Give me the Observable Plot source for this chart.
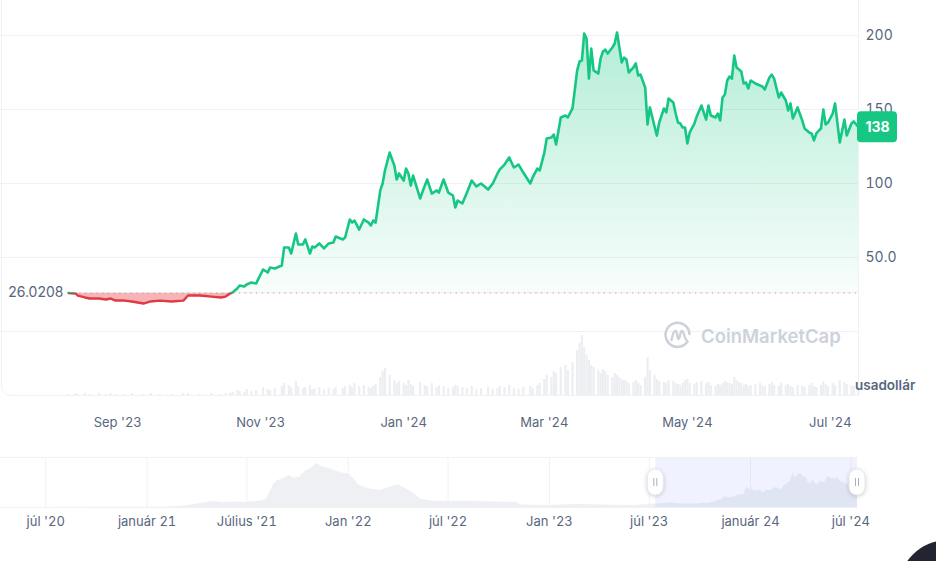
<!DOCTYPE html>
<html><head><meta charset="utf-8">
<script src="https://cdn.jsdelivr.net/npm/d3@7"></script>
<script src="https://cdn.jsdelivr.net/npm/@observablehq/plot@0.6"></script>
<style>
html,body{margin:0;padding:0;background:#fff;}
#root{position:relative;width:936px;height:561px;overflow:hidden;font-family:Inter,sans-serif;background:#fff;}
.layer{position:absolute;left:0;}
</style></head><body><div id="root"></div>
<script>
// ---------- DATA ----------
const baseline = 26.0208;
const lastPrice = 138;
const unitLabel = "usadollár";
const brand = "CoinMarketCap";

const dates = [
"2023-08-11","2023-08-14","2023-08-15","2023-08-18","2023-08-20","2023-08-24","2023-08-27","2023-08-29","2023-08-31",
"2023-09-04","2023-09-07","2023-09-12","2023-09-15","2023-09-19","2023-09-24","2023-09-29",
"2023-10-01","2023-10-06","2023-10-11","2023-10-15","2023-10-17","2023-10-19","2023-10-20","2023-10-22","2023-10-23","2023-10-25","2023-10-26","2023-10-28","2023-10-30",
"2023-11-02","2023-11-04","2023-11-05","2023-11-07","2023-11-10","2023-11-11","2023-11-13","2023-11-14","2023-11-16","2023-11-17","2023-11-19","2023-11-20","2023-11-22","2023-11-23","2023-11-24","2023-11-26","2023-11-28","2023-11-30",
"2023-12-02","2023-12-03","2023-12-06","2023-12-07","2023-12-09","2023-12-10","2023-12-11","2023-12-13","2023-12-15","2023-12-17","2023-12-18","2023-12-19","2023-12-20","2023-12-22","2023-12-23","2023-12-24","2023-12-26","2023-12-28","2023-12-29","2023-12-30",
"2024-01-01","2024-01-02","2024-01-03","2024-01-04","2024-01-05","2024-01-08","2024-01-10","2024-01-11","2024-01-13","2024-01-15","2024-01-16","2024-01-18","2024-01-20","2024-01-22","2024-01-23","2024-01-24","2024-01-26","2024-01-28","2024-01-30",
"2024-02-01","2024-02-03","2024-02-06","2024-02-08","2024-02-10","2024-02-11","2024-02-13","2024-02-15","2024-02-17","2024-02-19","2024-02-21","2024-02-24","2024-02-25","2024-02-27","2024-02-28",
"2024-03-01","2024-03-02","2024-03-04","2024-03-05","2024-03-06","2024-03-08","2024-03-10","2024-03-11","2024-03-13","2024-03-15","2024-03-16","2024-03-17","2024-03-18","2024-03-19","2024-03-20","2024-03-21","2024-03-22","2024-03-24","2024-03-25","2024-03-26","2024-03-27","2024-03-28","2024-03-30","2024-03-31",
"2024-04-01","2024-04-02","2024-04-03","2024-04-04","2024-04-05","2024-04-06","2024-04-08","2024-04-09","2024-04-10","2024-04-11","2024-04-13","2024-04-14","2024-04-15","2024-04-17","2024-04-18","2024-04-19","2024-04-21","2024-04-22","2024-04-23","2024-04-25","2024-04-26","2024-04-27","2024-04-28","2024-04-29","2024-04-30",
"2024-05-01","2024-05-02","2024-05-04","2024-05-05","2024-05-07","2024-05-09","2024-05-10","2024-05-11","2024-05-13","2024-05-14","2024-05-15","2024-05-16","2024-05-17","2024-05-18","2024-05-19","2024-05-20","2024-05-21","2024-05-22","2024-05-23","2024-05-24","2024-05-25","2024-05-26","2024-05-27","2024-05-28","2024-05-30",
"2024-06-01","2024-06-02","2024-06-03","2024-06-05","2024-06-06","2024-06-07","2024-06-09","2024-06-10","2024-06-12","2024-06-13","2024-06-14","2024-06-15","2024-06-17","2024-06-19","2024-06-20","2024-06-22","2024-06-23","2024-06-24","2024-06-25","2024-06-27","2024-06-28","2024-06-29","2024-06-30",
"2024-07-02","2024-07-03","2024-07-05","2024-07-07","2024-07-08","2024-07-10","2024-07-11","2024-07-13"
];
const prices = [
26.0208,25.7,24.3,23.0,22.3,22.3,21.6,22.3,20.9,
20.9,20.3,18.9,20.3,20.9,20.3,20.9,
24.3,24.3,23.6,23.0,23.6,25.7,26.4,29.1,31.1,30.4,31.8,33.1,32.4,
41.9,39.9,43.2,42.6,44.6,56.8,56.8,52.7,66.2,58.8,58.8,62.2,52.7,57.4,56.8,59.5,56.1,59.5,
60.1,64.2,62.2,63.5,75.7,73.6,75.0,68.9,75.7,73.6,71.6,75.0,73.6,95.3,100.0,108.8,120.9,112.2,102.7,106.8,
102.0,110.1,106.8,98.6,105.4,89.9,98.6,102.7,93.2,95.3,93.9,102.7,93.9,91.9,83.8,88.5,86.5,93.9,102.0,
98.0,100.0,95.9,100.0,106.8,109.5,112.8,117.6,110.8,112.8,107.4,100.0,104.1,110.1,108.8,
120.9,130.4,131.1,133.1,126.4,144.6,145.9,144.6,150.7,176.4,182.4,183.1,201.4,198.0,170.9,191.2,176.4,174.3,184.5,189.2,190.5,187.8,191.9,194.6,
202.0,191.9,181.8,185.1,183.8,175.0,178.4,181.1,173.0,173.6,164.9,139.9,151.4,138.5,132.4,141.2,150.7,148.0,157.4,154.7,147.3,141.2,140.5,137.8,137.8,
127.0,134.5,140.5,145.3,152.7,143.2,152.7,145.9,144.6,147.3,142.6,158.1,160.1,169.6,172.3,170.9,186.5,178.4,177.0,175.7,167.6,168.2,164.2,169.6,167.6,
166.2,165.5,163.5,171.6,173.6,170.9,158.1,161.5,156.1,149.3,154.1,143.9,151.4,142.6,137.2,134.5,133.8,129.1,133.8,137.2,150.0,139.9,141.2,
147.3,154.1,127.7,143.2,132.4,140.5,141.9,138.0
];
const volumes = [
1,2,1,2,1,2,1,2,1,
1,2,1,2,1,1,2,
2,1,2,1,2,2,3,5,4,3,6,4,5,
8,6,5,7,9,12,10,8,14,9,7,8,10,6,7,8,6,7,
6,8,7,9,10,8,12,9,10,8,7,9,11,18,24,27,20,15,12,14,
12,10,15,11,9,13,10,9,12,8,10,9,7,8,10,9,8,7,9,
6,7,8,6,7,9,8,10,7,6,8,9,7,10,12,
16,20,18,24,22,28,30,25,33,45,52,60,48,40,35,30,28,25,22,26,24,20,18,22,
20,18,16,15,14,12,13,15,12,10,18,38,25,20,16,14,13,12,15,14,12,11,10,12,15,
16,12,11,13,14,12,13,10,9,11,10,12,14,13,12,11,18,15,13,12,10,11,9,10,11,
12,10,9,11,13,10,9,12,10,11,9,8,10,9,8,10,12,9,8,10,14,11,9,
12,10,15,13,11,10,9,8
];

// history shown in the navigator (before the main window)
const navDates = ["2020-04-10","2020-07-01","2020-10-01","2021-01-01","2021-02-15","2021-03-15","2021-04-10","2021-05-01","2021-05-20","2021-06-10","2021-07-01","2021-07-20","2021-08-05","2021-08-18","2021-08-25","2021-09-05","2021-09-15","2021-09-25","2021-10-05","2021-10-15","2021-10-25","2021-11-05","2021-11-12","2021-11-20","2021-12-01","2021-12-10","2021-12-20","2022-01-01","2022-01-10","2022-01-20","2022-02-01","2022-02-15","2022-03-01","2022-03-15","2022-04-01","2022-04-15","2022-05-01","2022-05-12","2022-06-01","2022-07-01","2022-08-01","2022-09-01","2022-10-01","2022-11-01","2022-11-12","2023-01-01","2023-02-01","2023-03-01","2023-04-01","2023-05-01","2023-06-01","2023-07-01"];
const navValues = [0.3,0.5,0.8,1,3,10,25,35,28,32,30,35,45,130,155,165,185,170,175,210,225,255,240,232,222,210,200,195,170,130,115,105,98,115,132,110,80,50,38,35,38,33,32,30,14,12,16,17,15,13,12,18];

const xTicks = ["2023-09-01","2023-11-01","2024-01-01","2024-03-01","2024-05-01","2024-07-01"];
const xTickLabels = ["Sep '23","Nov '23","Jan '24","Mar '24","May '24","Jul '24"];
const yTicks = [50,100,150,200];
const yTickLabels = ["50.0","100","150","200"];
const yGrid = [0,50,100,150,200];
const navTicks = ["2020-07-01","2021-01-01","2021-07-01","2022-01-01","2022-07-01","2023-01-01","2023-07-01","2024-01-01","2024-07-01"];
const navTickLabels = ["júl '20","január 21","Július '21","Jan '22","júl '22","Jan '23","júl '23","január 24","júl '24"];
const windowRange = ["2023-07-13","2024-07-13"];
const navRange = ["2020-04-10","2024-07-13"];

// ---------- BUILD ----------
const P = s => new Date(s + "T00:00:00Z");
const series = dates.map((d, i) => ({date: P(d), value: prices[i], vol: volumes[i]}));
const navSeries = navDates.map((d, i) => ({date: P(d), value: navValues[i]}))
  .concat(series.map(d => ({date: d.date, value: d.value})));
const xDom = windowRange.map(P);
const xT = xTicks.map(P);
const nT = navTicks.map(P);
const FONT = "Inter, sans-serif";
const GREEN = "#16c784", RED = "#ea3943", TXT = "#58667e", GRID = "#eff2f5";

const root = document.getElementById("root");
function layer(top, node) {
  const d = document.createElement("div");
  d.className = "layer"; d.style.top = top + "px";
  d.appendChild(node); root.appendChild(d); return d;
}

// panel border
const border = document.createElement("div");
Object.assign(border.style, {position: "absolute", left: "1px", top: "-20px", width: "858px", height: "416px",
  boxSizing: "border-box", border: "1px solid " + GRID, borderRadius: "0 0 0 10px"});
root.appendChild(border);

// volume
const vol = Plot.plot({
  width: 936, height: 400, marginLeft: 0, marginRight: 78, marginTop: 330, marginBottom: 5,
  style: {background: "transparent"},
  x: {type: "utc", domain: xDom, axis: null},
  y: {domain: [0, 65], axis: null},
  marks: [
    Plot.ruleX(series, {x: "date", y1: 0, y2: "vol", stroke: "#eceef2", strokeWidth: 2.2})
  ]
});
layer(0, vol);

// main chart
const main = Plot.plot({
  width: 936, height: 440, marginLeft: 0, marginRight: 78, marginTop: 0, marginBottom: 45,
  style: {background: "transparent", fontFamily: FONT, color: TXT, overflow: "visible"},
  x: {type: "utc", domain: xDom, axis: null},
  y: {domain: [-43.24, 223.65], axis: null},
  marks: [
    Plot.gridY(yGrid, {stroke: GRID, strokeOpacity: 1}),
    Plot.areaY(series, {x: "date", y1: baseline, y2: "value", fill: "url(#greenGrad)"}),
    Plot.areaY(series, {x: "date", y1: baseline, y2: "value", fill: RED, fillOpacity: 0.38}),
    Plot.ruleY([baseline], {x1: () => series[0].date, x2: () => xDom[1], stroke: "#9aa3b5", strokeDasharray: "1.2 4.5", strokeWidth: 1.2}),
    Plot.line(series, {x: "date", y: "value", stroke: GREEN, strokeWidth: 2.6}),
    Plot.line(series, {x: "date", y: "value", stroke: "#e03a44", strokeWidth: 2.4}),
    Plot.text([{date: series[0].date, v: baseline}], {x: "date", y: "v", text: d => String(d.v), textAnchor: "end", dx: -5, fontSize: 14, fill: TXT}),
    Plot.axisY({ticks: yTicks, anchor: "right", tickSize: 0, tickPadding: 7, label: null,
      tickFormat: d => yTickLabels[yTicks.indexOf(d)], fontSize: 14, fill: TXT}),
    Plot.axisX({ticks: xT, anchor: "bottom", tickSize: 0, tickPadding: 22, label: null,
      tickFormat: d => xTickLabels[xT.findIndex(t => +t === +d)], fontSize: 13, fill: TXT}),
    (index, scales, values, dims) => {
      const yy = scales.y(lastPrice);
      const x0 = dims.width - dims.marginRight;
      return d3.create("svg:rect").attr("x", x0 - 1).attr("y", yy - 15.5).attr("width", 40).attr("height", 31)
        .attr("rx", 4).attr("fill", GREEN).node();
    },
    Plot.text([lastPrice], {y: d => d, frameAnchor: "right", textAnchor: "middle", dx: 19, text: d => String(d), fill: "white", fontWeight: 700, fontSize: 14})
  ]
});
{
  const svg = d3.select(main);
  const yS = main.scale("y");
  const yb = yS.apply(baseline);
  const defs = svg.insert("defs", ":first-child");
  const g = defs.append("linearGradient").attr("id", "greenGrad").attr("gradientUnits", "userSpaceOnUse")
    .attr("x1", 0).attr("x2", 0).attr("y1", yS.apply(200)).attr("y2", yb);
  g.append("stop").attr("offset", "0%").attr("stop-color", GREEN).attr("stop-opacity", 0.32);
  g.append("stop").attr("offset", "100%").attr("stop-color", GREEN).attr("stop-opacity", 0.03);
  defs.append("clipPath").attr("id", "clipUp").append("rect").attr("x", -10).attr("y", -100).attr("width", 1000).attr("height", yb + 100);
  defs.append("clipPath").attr("id", "clipDown").append("rect").attr("x", -10).attr("y", yb).attr("width", 1000).attr("height", 500);
  const areas = svg.selectAll('g[aria-label="area"]').nodes();
  const lines = svg.selectAll('g[aria-label="line"]').nodes();
  if (areas[0]) areas[0].setAttribute("clip-path", "url(#clipUp)");
  if (areas[1]) areas[1].setAttribute("clip-path", "url(#clipDown)");
  if (lines[0]) lines[0].setAttribute("clip-path", "url(#clipUp)");
  if (lines[1]) lines[1].setAttribute("clip-path", "url(#clipDown)");
}
layer(0, main);

// navigator
const nav = Plot.plot({
  width: 936, height: 100, marginLeft: 0, marginRight: 79, marginTop: 17, marginBottom: 33,
  style: {background: "transparent", fontFamily: FONT, color: TXT, overflow: "visible"},
  x: {type: "utc", domain: navRange.map(P), axis: null},
  y: {domain: [0, 290], axis: null},
  marks: [
    Plot.gridX(nT, {stroke: GRID, strokeOpacity: 1}),
    Plot.areaY(navSeries, {x: "date", y1: 0, y2: "value", fill: "#eef0f3"}),
    Plot.rect([{a: xDom[0], b: xDom[1]}], {x1: "a", x2: "b", fill: "#3861fb", fillOpacity: 0.075}),
    Plot.ruleY([0, 290], {stroke: GRID}),
    Plot.axisX({ticks: nT, anchor: "bottom", tickSize: 0, tickPadding: 9, label: null,
      tickFormat: d => navTickLabels[nT.findIndex(t => +t === +d)], fontSize: 13, fill: TXT}),
    (index, scales, values, dims) => {
      const g = d3.create("svg:g");
      const cy = (dims.marginTop + dims.height - dims.marginBottom) / 2;
      for (const d of xDom) {
        const cx = scales.x(d);
        g.append("rect").attr("x", cx - 8).attr("y", cy - 13).attr("width", 16).attr("height", 26).attr("rx", 8)
          .attr("fill", "white").attr("stroke", "#e6e9ee").style("filter", "drop-shadow(0 1px 2px rgba(0,0,0,0.18))");
        for (const o of [-1.5, 1.5]) g.append("line").attr("x1", cx + o).attr("x2", cx + o)
          .attr("y1", cy - 4).attr("y2", cy + 4).attr("stroke", "#a6b0c3").attr("stroke-width", 1);
      }
      return g.node();
    }
  ]
});
layer(440, nav);

// unit label
const unit = document.createElement("div");
unit.textContent = unitLabel;
Object.assign(unit.style, {position: "absolute", left: "855px", top: "377px", font: "600 13.5px " + FONT, color: TXT});
root.appendChild(unit);

// watermark
const wm = document.createElement("div");
Object.assign(wm.style, {position: "absolute", left: "663px", top: "321px", display: "flex", alignItems: "center", gap: "8px",
  font: "600 18.5px " + FONT, color: "#cdd2da"});
wm.innerHTML = '<svg width="30" height="30" viewBox="0 0 30 30"><path d="M24.5 20.5 A12 12 0 1 1 26.5 13" fill="none" stroke="#cdd2da" stroke-width="2.6" stroke-linecap="round"/>' +
  '<path d="M8.5 19 C9.5 14 11 10 12.5 10 C14.5 10 14 18 15.5 18 C17 18 17 10 19 10 C21 10 21 17 23.5 19" fill="none" stroke="#cdd2da" stroke-width="2.4" stroke-linecap="round"/></svg>';
const wmText = document.createElement("span"); wmText.textContent = brand; wm.appendChild(wmText);
root.appendChild(wm);

// corner button
const btn = document.createElement("div");
Object.assign(btn.style, {position: "absolute", left: "898px", top: "540px", width: "100px", height: "100px", borderRadius: "50%", background: "#222531"});
root.appendChild(btn);
</script></body></html>
